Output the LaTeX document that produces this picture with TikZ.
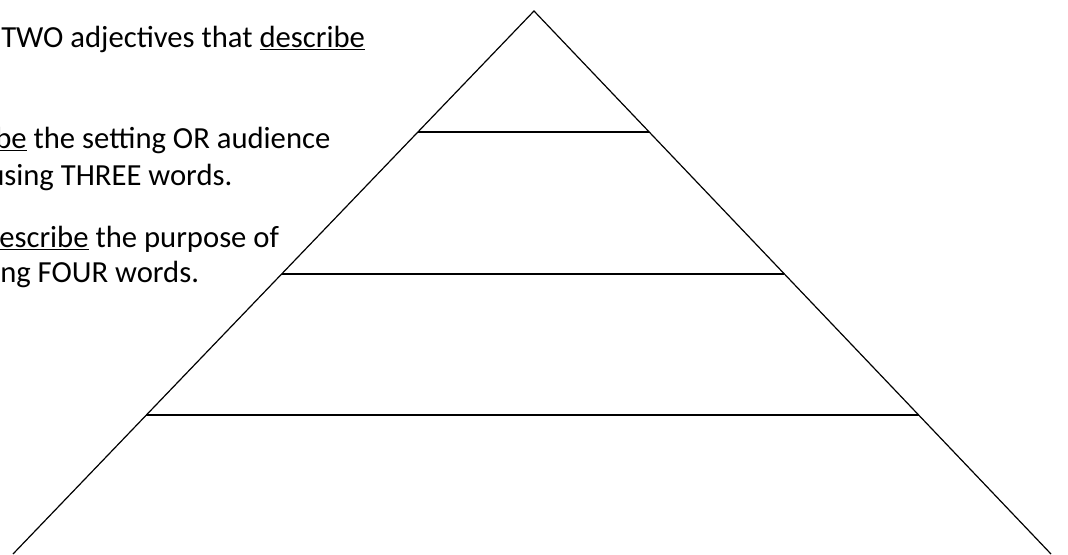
\documentclass[tikz,border=0pt]{standalone}
\usepackage{fontspec}
\setmainfont{Carlito}
\usetikzlibrary{calc}
\tikzset{
  prompt/.style={anchor=base west, inner sep=0pt, font=\fontsize{23}{28}\selectfont},
  edge/.style={line width=0.9pt},
  rung/.style={line width=1.5pt}
}
\begin{document}
\begin{tikzpicture}[x=0.75pt, y=-0.75pt]
  \useasboundingbox (0,0) rectangle (1068,554);
  % pyramid outline
  \coordinate (apex) at (534,11);
  \coordinate (baseL) at (13,554);
  \coordinate (baseR) at (1051,554);
  \draw[edge] (baseL) -- (apex) -- (baseR);
  \foreach \t in {0.2228, 0.4843, 0.744} {
    \draw[rung] ($(apex)!\t!(baseL)$) -- ($(apex)!\t!(baseR)$);
  }
  % instructions, cut at the left edge
  \node[prompt] (twoAdj) at (1,47) {TWO adjectives that \underline{describe}};
  \node[prompt] (setA) at (-5,148) {\underline{be} the setting OR audience};
  \node[prompt] (setB) at (-12,185) {using THREE words.};
  \node[prompt] (purpA) at (-1,247) {\underline{escribe} the purpose of};
  \node[prompt] (purpB) at (0,282) {ng FOUR words.};
\end{tikzpicture}
\end{document}
